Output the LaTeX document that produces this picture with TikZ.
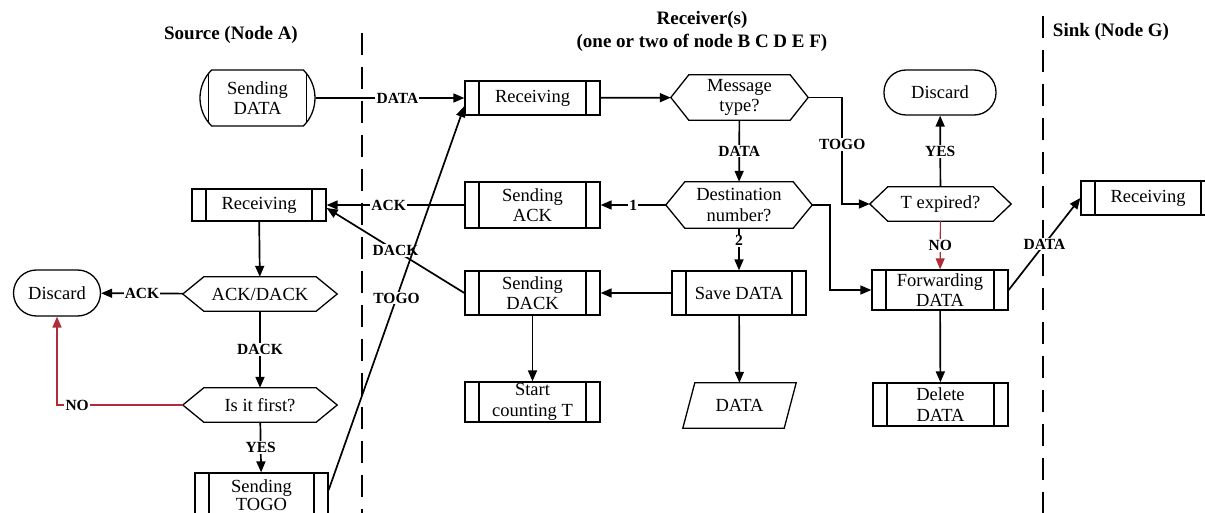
\documentclass[tikz,border=0pt]{standalone}
\usepackage{fontspec}
\setmainfont{Liberation Serif}
\usetikzlibrary{arrows.meta,shapes.misc}
\definecolor{myred}{RGB}{175,45,55}
\begin{document}
\begin{tikzpicture}[x=1pt,y=-1pt,
  every node/.style={font=\fontsize{18.5}{20.5}\selectfont, align=center, inner sep=0pt},
  box/.style={line width=1.3pt},
  proc/.style={draw, box, rectangle, minimum width=135pt,
    path picture={\draw[line width=1.1pt]
      ([xshift=14pt]path picture bounding box.north west) -- ([xshift=14pt]path picture bounding box.south west)
      ([xshift=-14pt]path picture bounding box.north east) -- ([xshift=-14pt]path picture bounding box.south east);}},
  hexa/.style={rectangle},
  term/.style={draw, box, rectangle, rounded corners=#1},
  sdata/.style={draw, box, rounded rectangle, rounded rectangle arc length=90,
    minimum width=115pt, minimum height=56pt,
    path picture={\draw[line width=1.1pt]
      ([xshift=12pt]path picture bounding box.north west) -- ([xshift=12pt]path picture bounding box.south west)
      ([xshift=-12pt]path picture bounding box.north east) -- ([xshift=-12pt]path picture bounding box.south east);}},
  title/.style={font=\bfseries\fontsize{19}{23}\selectfont},
  lbl/.style={font=\bfseries\fontsize{15.5}{17}\selectfont, fill=white, inner sep=1.2pt},
  conn/.style={line width=1.7pt, -{Triangle[length=11pt,width=9pt]}},
  sepline/.style={line width=2.4pt, dash pattern=on 22pt off 12pt}
]
\useasboundingbox (0,0) rectangle (1205,513);

% titles
\node[title] (t1) at (231,35) {Source (Node A)};
\node[title] (t2) at (702,31) {Receiver(s)\\(one or two of node B C D E F)};
\node[title] (t3) at (1111,32) {Sink (Node G)};

% separators
\coordinate (s1a) at (362,33); \coordinate (s1b) at (362,520);
\coordinate (s2a) at (1043,16); \coordinate (s2b) at (1043,520);
\draw[sepline] (s1a) -- (s1b);
\draw[sepline] (s2a) -- (s2b);

% source nodes
\node[sdata] (sd) at (257.5,98) {Sending\\DATA};
\node[proc, minimum width=134pt, minimum height=32pt] (srecv) at (259,205) {Receiving};
\node[hexa, minimum width=154pt, minimum height=34pt] (ackdack) at (260,294) {ACK/DACK};
\node[term=23pt, minimum width=87pt, minimum height=46pt] (dis1) at (57,293) {Discard};
\node[hexa, minimum width=154pt, minimum height=34pt] (first) at (260,405) {Is it first?};
\node[proc, minimum width=133pt, minimum height=44pt, font=\fontsize{18.5}{18}\selectfont] (togo) at (261.5,495) {Sending\\TOGO};

% receiver nodes
\node[proc, minimum height=34pt] (mrecv) at (532.5,98) {Receiving};
\node[hexa, minimum width=137pt, minimum height=45pt] (msg) at (739.5,97.5) {Message\\type?};
\node[proc, minimum height=46pt] (sack) at (532.5,205) {Sending\\ACK};
\node[hexa, minimum width=146pt, minimum height=46pt] (dest) at (739,205) {Destination\\number?};
\node[proc, minimum height=44pt] (sdack) at (532.5,293) {Sending\\DACK};
\node[proc, minimum width=134pt, minimum height=44pt] (save) at (739,293) {Save DATA};
\node[proc, minimum height=40pt] (count) at (532.5,402) {Start\\counting T};
\node[minimum width=113pt, minimum height=45pt] (data) at (739.5,405.5) {DATA};

% right-hand receiver nodes
\node[term=22pt, minimum width=112pt, minimum height=45pt] (dis2) at (940,92.5) {Discard};
\node[hexa, minimum width=141pt, minimum height=34pt] (texp) at (940.5,204) {T expired?};
\node[proc, minimum width=136pt, minimum height=40pt] (fwd) at (940,290) {Forwarding\\DATA};
\node[proc, minimum height=43pt] (del) at (940.5,404.5) {Delete\\DATA};

% sink
\node[proc, minimum width=134pt, minimum height=34pt] (krecv) at (1148,198) {Receiving};

% hexagon outlines
\foreach \n/\d in {ackdack/21,first/21,msg/18,dest/19,texp/18}
  \draw[box] ([xshift=\d pt]\n.north west) -- ([xshift=-\d pt]\n.north east) -- (\n.east)
    -- ([xshift=-\d pt]\n.south east) -- ([xshift=\d pt]\n.south west) -- (\n.west) -- cycle;
% parallelogram outline
\draw[box] ([xshift=12pt]data.north west) -- (data.north east) -- ([xshift=-12pt]data.south east)
  -- (data.south west) -- cycle;

% connectors: receiver
\draw[conn] (sd) -- node[lbl, pos=0.55]{DATA} (mrecv);
\draw[conn] (mrecv) -- (msg);
\draw[conn] (msg) -- node[lbl]{DATA} (dest);
\draw[conn] (msg.east) -- ++(34,0) |- node[lbl, pos=0.22]{TOGO} (texp.west);
\draw[conn] (texp) -- node[lbl]{YES} (dis2);
\draw[conn, myred, line width=1.2pt] (texp) -- node[lbl, text=black]{NO} (fwd);
\draw[conn] (dest.east) -- ++(18,0) |- (fwd.west);
\draw[conn] (dest) -- node[lbl]{1} (sack);
\draw[conn] (sack) -- node[lbl, pos=0.55]{ACK} (srecv);
\draw[conn] (dest) -- node[lbl, pos=0.3]{2} (save);
\draw[conn] (save) -- (sdack);
\draw[conn] (sdack.west) -- node[lbl]{DACK} ([yshift=-3pt]srecv.east);
\draw[conn] (sdack) -- (count);
\draw[conn] (save) -- (data);
\draw[conn] (fwd) -- (del);
\draw[conn] (fwd.east) -- node[lbl]{DATA} (krecv.west);

% connectors: source
\draw[conn] (srecv) -- (ackdack);
\draw[conn] (ackdack) -- node[lbl]{ACK} (dis1);
\draw[conn] (ackdack) -- node[lbl]{DACK} (first);
\draw[conn, myred] (first.west) -| node[lbl, text=black, pos=0.42]{NO} (dis1.south);
\draw[conn] (first) -- node[lbl]{YES} (togo);
\draw[conn] ([yshift=5pt]togo.east) -- node[lbl]{TOGO} ([yshift=-8pt]mrecv.west);
\end{tikzpicture}
\end{document}
